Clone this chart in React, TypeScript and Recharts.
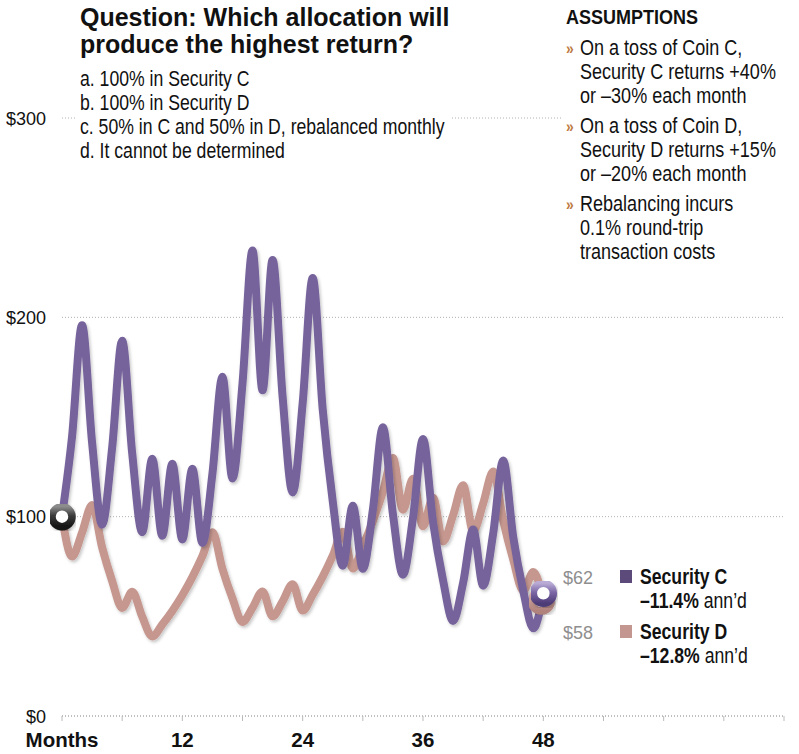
import { LineChart, Line, XAxis, YAxis, CartesianGrid } from 'recharts';

// month-end value of $100 invested
const securityC = [
  100, 140, 196, 137.2, 96.0, 134.5, 188.2, 131.8, 92.2, 129.1, 90.4, 126.5, 88.6,
  124.0, 86.8, 121.5, 170.2, 119.1, 166.8, 233.5, 163.4, 228.8, 160.2, 112.1, 156.9,
  219.7, 153.8, 107.7, 75.4, 105.5, 73.9, 103.4, 144.8, 101.3, 70.9, 99.3, 139.0,
  97.3, 68.1, 47.7, 66.8, 93.5, 65.4, 91.6, 128.2, 89.8, 62.8, 44.0, 61.6,
];
const securityD = [
  100, 80, 92, 105.8, 84.6, 67.7, 54.2, 62.3, 49.8, 39.9, 45.9, 52.7, 60.6,
  69.7, 80.2, 92.2, 73.8, 59.0, 47.2, 54.3, 62.5, 50.0, 57.5, 66.1, 52.9,
  60.8, 69.9, 80.4, 92.4, 74.0, 85.1, 97.8, 112.5, 129.4, 103.5, 119.0, 95.2,
  109.5, 87.6, 100.7, 115.8, 92.7, 106.6, 122.6, 98.0, 78.4, 62.8, 72.2, 57.7,
];

const xTicks = [0, 6, 12, 18, 24, 30, 36, 42, 48, 54, 60, 66, 72];
const xTickLabels: Record<number, string> = { 0: 'Months', 12: '12', 24: '24', 36: '36', 48: '48' };
const yTicks = [0, 100, 200, 300];
const yTickLabels: Record<number, string> = { 0: '$0', 100: '$100', 200: '$200', 300: '$300' };

const answers = [
  'a. 100% in Security C',
  'b. 100% in Security D',
  'c. 50% in C and 50% in D, rebalanced monthly',
  'd. It cannot be determined',
];
const assumptions = [
  ['On a toss of Coin C,', 'Security C returns +40%', 'or –30% each month'],
  ['On a toss of Coin D,', 'Security D returns +15%', 'or –20% each month'],
  ['Rebalancing incurs', '0.1% round-trip', 'transaction costs'],
];
const legendItems = [
  { name: 'Security C', change: '–11.4%', end: '$62', color: '#5c4a7b' },
  { name: 'Security D', change: '–12.8%', end: '$58', color: '#c49690' },
];

const data = securityC.map((c, i) => ({ month: i, c, d: securityD[i] }));

const C_COLOR = '#77649c';
const D_COLOR = '#c5978f';
const SANS = "'Liberation Sans', Arial, sans-serif";

// no narrow face installed: squeeze Liberation Sans horizontally instead
const Narrow = ({ x, y, size, bold, fill = '#111', squeeze = 0.82, children }: any) => (
  <text
    transform={`translate(${x} ${y}) scale(${squeeze} 1)`}
    fontFamily={SANS}
    fontSize={size}
    fontWeight={bold ? 700 : 400}
    fill={fill}
  >
    {children}
  </text>
);

const Ring = ({ cx, cy, grad }: { cx: number; cy: number; grad: string }) => (
  <g filter="url(#dropShadow)">
    <circle cx={cx} cy={cy} r={10} fill="#fff" stroke={`url(#${grad})`} strokeWidth={7.5} />
  </g>
);

const dotC = (props: any) => {
  const { cx, cy, index } = props;
  if (index === 0) return <Ring key={index} cx={cx} cy={cy} grad="ringDark" />;
  if (index === securityC.length - 1) return <Ring key={index} cx={cx} cy={cy} grad="ringPurple" />;
  return <g key={index} />;
};

const dotD = (props: any) => {
  const { cx, cy, index } = props;
  if (index === securityD.length - 1) return <Ring key={index} cx={cx - 2} cy={cy} grad="ringRose" />;
  return <g key={index} />;
};

const XTick = (props: any) => {
  const { x, y, payload } = props;
  const label = xTickLabels[payload.value];
  if (!label) return <g />;
  return (
    <text x={x} y={y + 26} textAnchor="middle" fontFamily={SANS} fontWeight={700} fontSize={20.5} fill="#111">
      {label}
    </text>
  );
};

const YTick = (props: any) => {
  const { y, payload } = props;
  return (
    <text x={46} y={y + 6.5} textAnchor="end" fontFamily={SANS} fontSize={18} fill="#111">
      {yTickLabels[payload.value]}
    </text>
  );
};

export default function App() {
  return (
    <div style={{ position: 'relative', width: 799, height: 754, background: '#fff' }}>
      <style>{'body{margin:0}'}</style>
      <LineChart width={799} height={754} data={data} margin={{ top: 118, right: 15, bottom: 0, left: 0 }}>
        <CartesianGrid vertical={false} stroke="#b0b0b0" strokeDasharray="1 2" />
        <XAxis
          dataKey="month"
          type="number"
          domain={[0, 72]}
          ticks={xTicks}
          height={38}
          tickSize={5}
          tickMargin={0}
          axisLine={{ stroke: '#a8a8a8', strokeDasharray: '1 2' }}
          tickLine={{ stroke: '#bbbbbb' }}
          tick={<XTick />}
          interval={0}
        />
        <YAxis width={62} domain={[0, 300]} ticks={yTicks} axisLine={false} tickLine={false} tick={<YTick />} />
        <Line
          type="monotone"
          dataKey="d"
          stroke={D_COLOR}
          strokeWidth={8}
          filter="url(#dropShadow)"
          dot={dotD}
          activeDot={false}
          isAnimationActive={false}
        />
        <Line
          type="monotone"
          dataKey="c"
          stroke={C_COLOR}
          strokeWidth={8}
          filter="url(#dropShadow)"
          dot={dotC}
          activeDot={false}
          isAnimationActive={false}
        />
      </LineChart>

      <svg width={799} height={754} style={{ position: 'absolute', left: 0, top: 0, pointerEvents: 'none' }}>
        <defs>
          <filter id="dropShadow" x="-10%" y="-10%" width="130%" height="130%">
            <feDropShadow dx={1.5} dy={2} stdDeviation={1.5} floodColor="#000" floodOpacity={0.22} />
          </filter>
          <linearGradient id="ringDark" x1="0" y1="0" x2="0" y2="1">
            <stop offset="0%" stopColor="#8c8c8c" />
            <stop offset="45%" stopColor="#3a3a3a" />
            <stop offset="100%" stopColor="#151515" />
          </linearGradient>
          <linearGradient id="ringPurple" x1="0" y1="0" x2="0" y2="1">
            <stop offset="0%" stopColor="#b9abd6" />
            <stop offset="45%" stopColor="#7c67a6" />
            <stop offset="100%" stopColor="#4e3c77" />
          </linearGradient>
          <linearGradient id="ringRose" x1="0" y1="0" x2="0" y2="1">
            <stop offset="0%" stopColor="#d8b2ab" />
            <stop offset="100%" stopColor="#b0827b" />
          </linearGradient>
        </defs>

        {/* title */}
        <text fontFamily={SANS} fontWeight={700} fontSize={25} fill="#111">
          <tspan x={80} y={26}>Question: Which allocation will</tspan>
          <tspan x={80} y={53}>produce the highest return?</tspan>
        </text>

        {/* answers sit on white so the $300 gridline breaks behind them */}
        <rect x={76} y={64} width={376} height={100} fill="#fff" />
        {answers.map((a, i) => (
          <Narrow key={a} x={80} y={85.5 + i * 24.1} size={21.5}>
            {a}
          </Narrow>
        ))}

        <rect x={563} y={0} width={236} height={266} fill="#fff" />
        <Narrow x={566} y={24} size={20} bold squeeze={0.9}>
          ASSUMPTIONS
        </Narrow>
        {assumptions.map((group, g) =>
          group.map((line, l) => {
            const y = [55, 133, 211][g] + l * 23.8;
            return (
              <g key={`${g}-${l}`}>
                {l === 0 && (
                  <Narrow x={566} y={y - 1} size={17} bold fill="#bd7a40">
                    »
                  </Narrow>
                )}
                <Narrow x={580} y={y} size={22}>
                  {line}
                </Narrow>
              </g>
            );
          })
        )}

        {/* end values + legend */}
        {legendItems.map((item, i) => {
          const y = 584 + i * 55;
          return (
            <g key={item.name}>
              <text x={563} y={y} fontFamily={SANS} fontSize={18} fill="#8e8e8e">
                {item.end}
              </text>
              <rect x={620} y={y - 14} width={12} height={13} fill={item.color} />
              <Narrow x={640} y={y} size={21.5} bold>
                {item.name}
              </Narrow>
              <Narrow x={640} y={y + 24} size={21.5}>
                <tspan fontWeight={700}>{item.change}</tspan> ann’d
              </Narrow>
            </g>
          );
        })}
      </svg>
    </div>
  );
}
